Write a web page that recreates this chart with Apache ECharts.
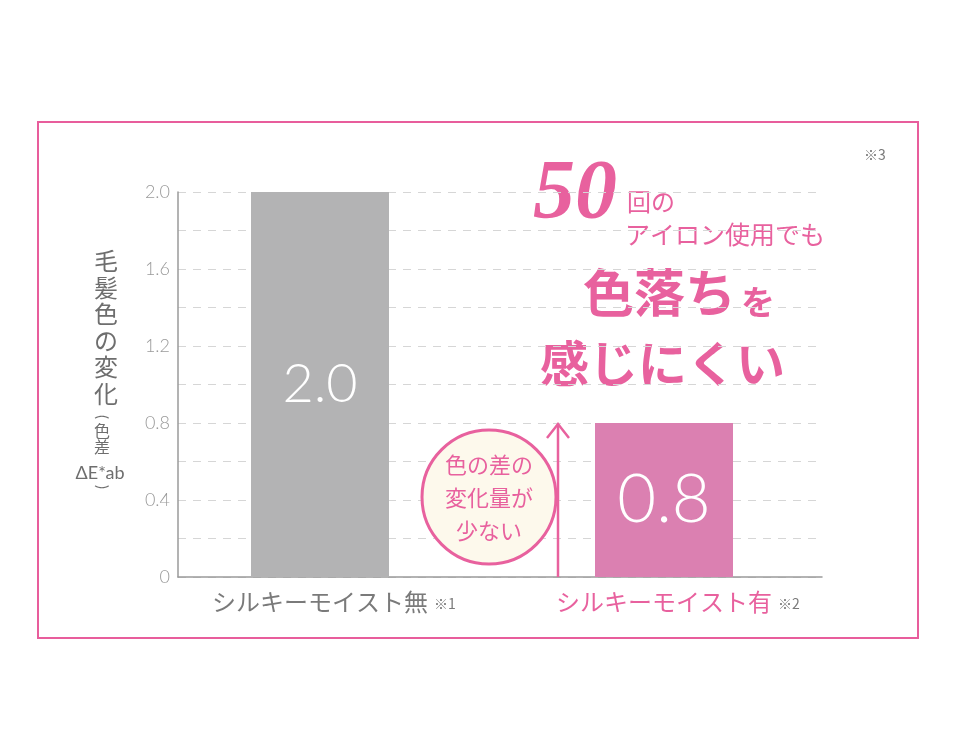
<!DOCTYPE html>
<html><head><meta charset="utf-8">
<script src="https://cdn.jsdelivr.net/npm/echarts@6/dist/echarts.min.js"></script>
<style>html,body{margin:0;padding:0;background:#fff}#c{width:980px;height:750px}</style>
</head><body><div id="c"></div>
<script>
const categories = ['シルキーモイスト無', 'シルキーモイスト有'];
const notes = ['※1', '※2'];
const values = [2.0, 0.8];
const valueLabels = ['2.0', '0.8'];
const yTicks = [0, 0.4, 0.8, 1.2, 1.6, 2.0];
const yTickLabels = ['0', '0.4', '0.8', '1.2', '1.6', '2.0'];

const PINK = '#e8619e';
const JP = '"Noto Sans CJK JP", sans-serif';
const chart = echarts.init(document.getElementById('c'));

const barColors = ['#b3b3b4', '#db80b1'];
const labelSizes = [54, 67];

chart.setOption({
  animation: false,
  backgroundColor: '#fff',
  grid: [
    {left: 178, right: 158, top: 192, bottom: 173},
    {left: 148, right: 144, top: 192, bottom: 173}
  ],
  xAxis: [
    {gridIndex: 0, type: 'category', data: categories, axisLabel: {show: false}, axisTick: {show: false},
     axisLine: {lineStyle: {color: '#9a9a9a', width: 1.5}}},
    {gridIndex: 1, type: 'category', data: categories, axisLine: {show: false}, axisTick: {show: false},
     axisLabel: {
       margin: 13,
       formatter: (v, i) => i === 0 ? '{s|}{g|' + v + '}{n|' + notes[i] + '}' : '{s|}{p|' + v + '}{n|' + notes[i] + '}',
       rich: {
         s: {width: 28},
         g: {fontFamily: JP, fontSize: 24, color: '#7a7a7a'},
         p: {fontFamily: JP, fontSize: 24, color: PINK},
         n: {fontFamily: JP, fontSize: 14, color: '#7a7a7a', padding: [4, 0, 0, 6]}
       }
     }}
  ],
  yAxis: [
    {gridIndex: 0, type: 'value', min: 0, max: 2, interval: 0.2,
     axisLine: {show: true, lineStyle: {color: '#9a9a9a', width: 1.5}}, axisTick: {show: false},
     axisLabel: {
       margin: 8, color: '#9a9a9a', fontSize: 18, fontFamily: 'Lato, sans-serif', fontWeight: 300,
       formatter: v => { const k = yTicks.findIndex(t => Math.abs(t - v) < 1e-6); return k >= 0 ? yTickLabels[k] : ''; }
     },
     splitLine: {show: true, lineStyle: {color: '#d6d6d6', type: [8, 7], width: 1}}},
    {gridIndex: 1, type: 'value', min: 0, max: 2, show: false, splitLine: {show: false}}
  ],
  series: [{
    type: 'bar', xAxisIndex: 1, yAxisIndex: 1, barWidth: 138,
    data: values.map((v, i) => ({
      value: v,
      itemStyle: {color: barColors[i]},
      label: {show: true, position: 'inside', formatter: valueLabels[i], color: '#fff',
              fontSize: labelSizes[i], fontFamily: 'Lato, sans-serif', fontWeight: 300}
    }))
  }],
  graphic: [
    {type: 'rect', shape: {x: 38, y: 122, width: 880, height: 516}, style: {fill: 'none', stroke: '#e85d9c', lineWidth: 2}, z: 0},
    {type: 'text', left: 864, top: 148, style: {text: '※3', fontSize: 14, fill: '#7a7a7a', fontFamily: JP}},
    // y-axis title
    {type: 'text', x: 106, y: 248, style: {text: '毛\n髪\n色\nの\n変\n化', fontSize: 24, lineHeight: 26.5, fill: '#6e6e6e', fontFamily: JP, align: 'center', verticalAlign: 'top'}},
    {type: 'text', x: 102, y: 417, rotation: -Math.PI / 2, style: {text: '(', fontSize: 15, fill: '#6e6e6e', fontFamily: 'Lato, sans-serif', align: 'center', verticalAlign: 'middle'}},
    {type: 'text', x: 102, y: 431, style: {text: '色', fontSize: 16, fill: '#6e6e6e', fontFamily: JP, align: 'center', verticalAlign: 'middle'}},
    {type: 'text', x: 102, y: 447, style: {text: '差', fontSize: 16, fill: '#6e6e6e', fontFamily: JP, align: 'center', verticalAlign: 'middle'}},
    {type: 'text', x: 100, y: 473, style: {text: 'ΔE*ab', fontSize: 18, fill: '#6e6e6e', fontFamily: 'Lato, sans-serif', align: 'center', verticalAlign: 'middle'}},
    {type: 'text', x: 102, y: 487, rotation: -Math.PI / 2, style: {text: ')', fontSize: 15, fill: '#6e6e6e', fontFamily: 'Lato, sans-serif', align: 'center', verticalAlign: 'middle'}},
    // headline
    {type: 'text', x: 533, y: 196, style: {text: '50', fontSize: 84, fontStyle: 'italic', fontWeight: 'bold', fill: PINK, fontFamily: '"Liberation Serif", serif', verticalAlign: 'middle'}},
    {type: 'text', x: 627, y: 202, style: {text: '回の', fontSize: 24, fill: PINK, fontFamily: JP, verticalAlign: 'middle'}},
    {type: 'text', x: 625, y: 234, style: {text: 'アイロン使用でも', fontSize: 25, fill: PINK, fontFamily: JP, verticalAlign: 'middle'}},
    {type: 'text', x: 583, y: 293, style: {text: '色落ち', fontSize: 51, fontWeight: 'bold', fill: PINK, fontFamily: JP, verticalAlign: 'middle'}},
    {type: 'text', x: 741, y: 302, style: {text: 'を', fontSize: 34, fontWeight: 'bold', fill: PINK, fontFamily: JP, verticalAlign: 'middle'}},
    {type: 'text', x: 540, y: 363, style: {text: '感じにくい', fontSize: 49, fontWeight: 'bold', fill: PINK, fontFamily: JP, verticalAlign: 'middle'}},
    // callout circle
    {type: 'circle', shape: {cx: 489, cy: 497, r: 67}, style: {fill: '#fdf9ec', stroke: PINK, lineWidth: 3}, z: 10},
    {type: 'text', x: 489, y: 498, z: 11, style: {text: '色の差の\n変化量が\n少ない', fontSize: 22, lineHeight: 33, fill: PINK, fontFamily: JP, align: 'center', verticalAlign: 'middle'}},
    // arrow
    {type: 'polyline', z: 12, shape: {points: [[558, 577], [558, 424]]}, style: {stroke: PINK, lineWidth: 2.5, fill: 'none'}},
    {type: 'polyline', z: 12, shape: {points: [[547, 438], [558, 424], [569, 438]]}, style: {stroke: PINK, lineWidth: 2.5, fill: 'none'}}
  ]
});
</script></body></html>
